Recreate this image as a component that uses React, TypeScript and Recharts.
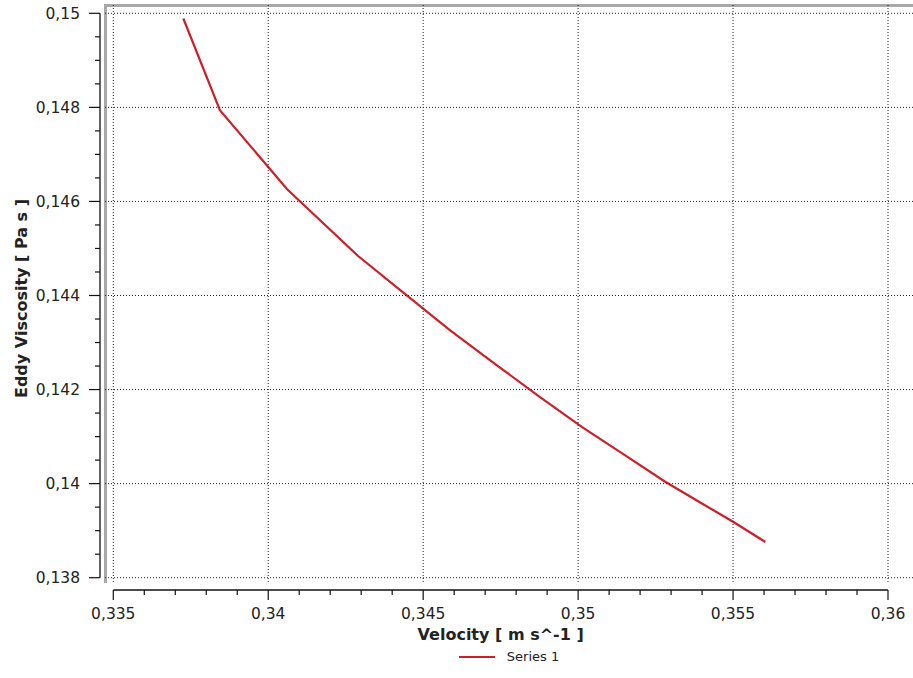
import { Label, Legend, Line, LineChart, XAxis, YAxis } from "recharts";

// Velocity [m s^-1] and eddy viscosity [Pa s] along the sampled line
const velocity = [
  0.33726, 0.33844, 0.34061, 0.3429, 0.34442, 0.34587, 0.34739, 0.34877,
  0.35013, 0.35152, 0.35281, 0.35394, 0.355, 0.35604,
];
const eddyViscosity = [
  0.14989, 0.14794, 0.14626, 0.14484, 0.14403, 0.14326, 0.14251, 0.14184,
  0.1412, 0.1406, 0.14004, 0.1396, 0.13919, 0.13876,
];

const xMajor = [0.335, 0.34, 0.345, 0.35, 0.355, 0.36];
const yMajor = [0.138, 0.14, 0.142, 0.144, 0.146, 0.148, 0.15];

// minor ticks: 5 steps per x division, 4 steps per y division
const xTicks: number[] = [];
for (let i = 0; i <= 25; i++) xTicks.push(Number((0.335 + i * 0.001).toFixed(3)));
const yTicks: number[] = [];
for (let i = 0; i <= 24; i++) yTicks.push(Number((0.138 + i * 0.0005).toFixed(4)));

const data = velocity.map((v, i) => ({ velocity: v, eddy: eddyViscosity[i] }));

const FONT = "'DejaVu Sans', Verdana, sans-serif";
// frame of the plotting region (the dotted grid runs out to it)
const FRAME = { left: 105, right: 913, top: 5, bottom: 583 };

const isMajor = (v: number, list: number[]) => list.some((m) => Math.abs(m - v) < 1e-9);
const fmt = (v: number) => String(v).replace(".", ",");

function XTick(props: any) {
  const { x, y, payload } = props;
  const major = isMajor(payload.value, xMajor);
  return (
    <g>
      {major && (
        <line x1={x} x2={x} y1={FRAME.top} y2={FRAME.bottom} stroke="#222" strokeDasharray="1 2" />
      )}
      <line x1={x} x2={x} y1={y} y2={y + (major ? 10 : 5)} stroke="#111" strokeWidth={1.2} />
      {major && (
        <text x={x} y={y + 29} textAnchor="middle" fontSize={15.5} fontFamily={FONT} fill="#222">
          {fmt(payload.value)}
        </text>
      )}
    </g>
  );
}

function YTick(props: any) {
  const { x, y, payload } = props;
  const major = isMajor(payload.value, yMajor);
  return (
    <g>
      {major && (
        <line x1={FRAME.left} x2={FRAME.right} y1={y} y2={y} stroke="#222" strokeDasharray="1 2" />
      )}
      <line x1={x - (major ? 11 : 5)} x2={x} y1={y} y2={y} stroke="#111" strokeWidth={1.2} />
      {major && (
        <text x={x - 20} y={y + 5.5} textAnchor="end" fontSize={15.5} fontFamily={FONT} fill="#222">
          {fmt(payload.value)}
        </text>
      )}
    </g>
  );
}

function YTitle(props: any) {
  const vb = props.viewBox;
  const cx = vb.x + 21;
  const cy = vb.y + vb.height / 2 + 3;
  return (
    <text
      x={cx}
      y={cy}
      transform={`rotate(-90, ${cx}, ${cy})`}
      textAnchor="middle"
      dominantBaseline="central"
      fontSize={16}
      fontWeight="bold"
      fontFamily={FONT}
      fill="#222"
    >
      Eddy Viscosity [ Pa s ]
    </text>
  );
}

function XTitle(props: any) {
  const vb = props.viewBox;
  return (
    <text
      x={vb.x + vb.width / 2}
      y={vb.y + 44}
      textAnchor="middle"
      dominantBaseline="central"
      fontSize={16}
      fontWeight="bold"
      fontFamily={FONT}
      fill="#222"
    >
      Velocity [ m s^-1 ]
    </text>
  );
}

function LegendContent(props: any) {
  const items = props.payload || [];
  return (
    <div style={{ display: "flex", justifyContent: "center", alignItems: "center" }}>
      {items.map((it: any) => (
        <div key={it.value} style={{ display: "flex", alignItems: "center" }}>
          <svg width={36} height={6}>
            <line x1={0} x2={36} y1={3} y2={3} stroke={it.color} strokeWidth={2.2} />
          </svg>
          <span style={{ marginLeft: 12, fontSize: 13, fontFamily: FONT, color: "#222" }}>
            {it.value}
          </span>
        </div>
      ))}
    </div>
  );
}

export default function App() {
  return (
    <div style={{ position: "absolute", left: 0, top: 0, width: 913, height: 678, background: "#fff" }}>
      <div
        style={{
          position: "absolute",
          left: 104,
          top: 4,
          width: 809,
          height: 579,
          borderLeft: "3px solid #a8a8a8",
          borderTop: "3px solid #a8a8a8",
          boxSizing: "border-box",
        }}
      />
      <div style={{ position: "absolute", left: 0, top: 0 }}>
        <LineChart
          width={913}
          height={678}
          data={data}
          margin={{ top: 13.3, right: 25, bottom: 28, left: 0 }}
        >
          <XAxis
            xAxisId="main"
            type="number"
            dataKey="velocity"
            domain={[0.335, 0.36]}
            ticks={xTicks}
            interval={0}
            height={60}
            tickSize={0}
            tickMargin={0}
            tickLine={false}
            axisLine={{ stroke: "#111", strokeWidth: 1.3 }}
            tick={<XTick />}
          >
            <Label content={<XTitle />} />
          </XAxis>
          {/* empty axis that pushes the visible one away from the plot */}
          <XAxis
            xAxisId="gap"
            type="number"
            dataKey="velocity"
            domain={[0.335, 0.36]}
            height={12.3}
            tick={false}
            axisLine={false}
            tickLine={false}
          />
          <YAxis
            yAxisId="main"
            type="number"
            domain={[0.138, 0.15]}
            ticks={yTicks}
            interval={0}
            width={100}
            tickSize={0}
            tickMargin={0}
            tickLine={false}
            axisLine={{ stroke: "#111", strokeWidth: 1.3 }}
            tick={<YTick />}
          >
            <Label content={<YTitle />} />
          </YAxis>
          <YAxis
            yAxisId="gap"
            type="number"
            domain={[0.138, 0.15]}
            width={13.3}
            tick={false}
            axisLine={false}
            tickLine={false}
          />
          <Legend
            layout="horizontal"
            verticalAlign="middle"
            align="center"
            wrapperStyle={{ top: 649, left: 105, width: 808 }}
            content={<LegendContent />}
          />
          <Line
            xAxisId="main"
            yAxisId="main"
            type="linear"
            dataKey="eddy"
            name="Series 1"
            stroke="#cf1f28"
            strokeWidth={2.2}
            dot={false}
            activeDot={false}
            isAnimationActive={false}
          />
        </LineChart>
      </div>
    </div>
  );
}
